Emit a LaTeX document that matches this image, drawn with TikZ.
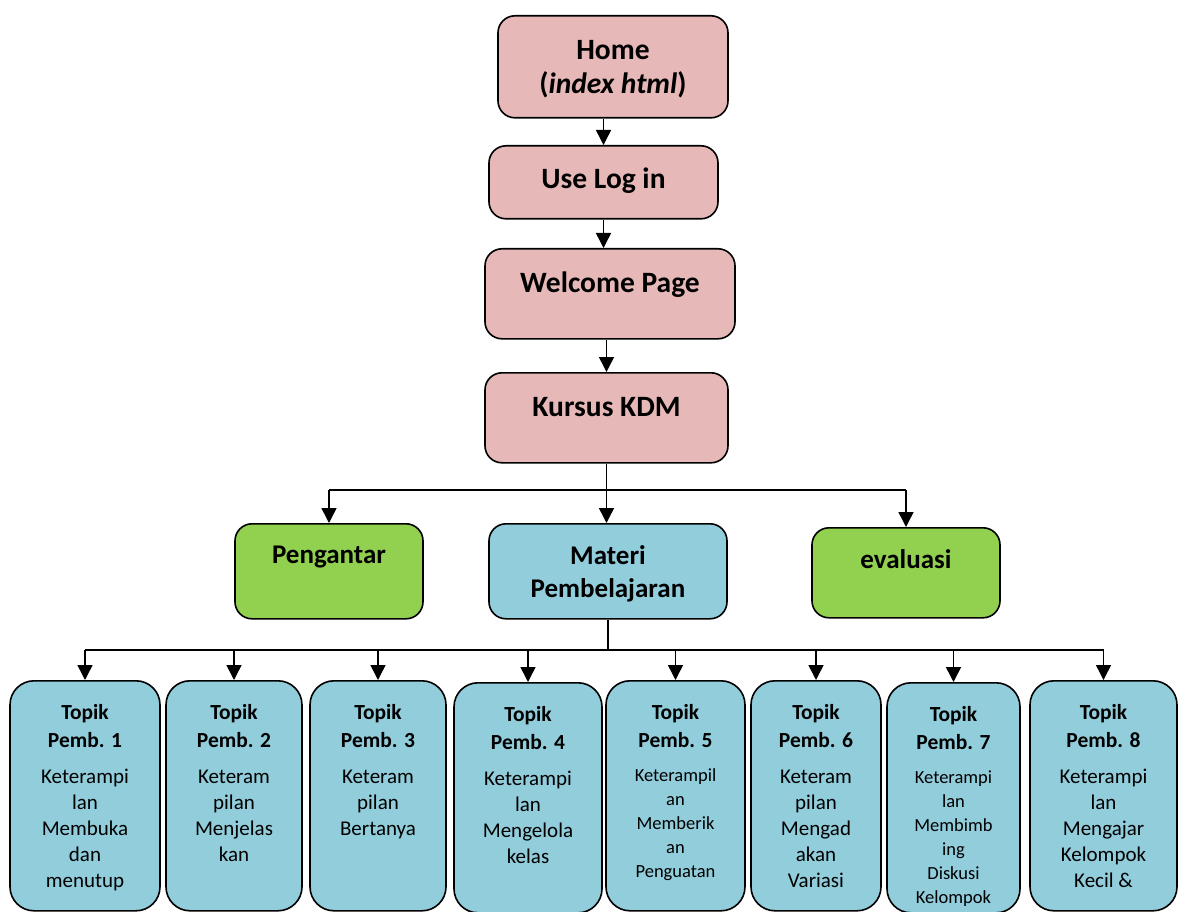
\documentclass[tikz,border=0pt]{standalone}
\usepackage{fontspec}
\setmainfont{Carlito}
\usetikzlibrary{arrows.meta}
\definecolor{pinkfill}{HTML}{E6B9B8}
\definecolor{bluefill}{HTML}{92CDDC}
\definecolor{greenfill}{HTML}{92D050}
\newcommand{\boxtext}[4]{\parbox[t][#1pt][t]{#2pt}{\centering\vspace*{#3pt}#4\par}}
\newcommand{\topiktext}[3]{\parbox[t][230pt][t]{#1pt}{\centering\vspace*{24pt}%
  {\bfseries\fontsize{21.5}{28}\selectfont Topik\\Pemb. #2\par}\vspace*{10pt}{#3\par}}}
\newcommand{\topfont}{\bfseries\fontsize{29.5}{34}\selectfont}
\newcommand{\midfont}{\bfseries\fontsize{27}{33}\selectfont}
\newcommand{\bodyfont}{\fontsize{21}{26}\selectfont}
\newcommand{\smallbody}{\fontsize{18.5}{24}\selectfont}

\begin{document}
\begin{tikzpicture}[x=1pt, y=-1pt,
    box/.style={draw=black, line width=1.6pt, rounded corners=17pt, inner sep=0pt, anchor=north},
    pinkbox/.style={box, fill=pinkfill},
    greenbox/.style={box, fill=greenfill},
    bluebox/.style={box, fill=bluefill},
    topikbox/.style={box, fill=bluefill, rounded corners=24pt},
    link/.style={line width=1.5pt},
    arr/.style={link, -{Triangle[width=15pt,length=15pt]}}]
  \useasboundingbox (0,0) rectangle (1184,912);

  \node[pinkbox] (home) at (613,15) {\boxtext{102}{230}{25}{\topfont Home\\(\textit{index html})}};
  \node[pinkbox] (login) at (603.5,145) {\boxtext{73}{229}{22}{\topfont Use Log in}};
  \node[pinkbox] (welcome) at (610,248) {\boxtext{90}{250}{23}{\topfont Welcome Page}};
  \node[pinkbox] (kursus) at (606.5,372) {\boxtext{90}{243}{25}{\topfont Kursus KDM}};

  \node[greenbox] (pengantar) at (329,523) {\boxtext{95}{188}{22}{\midfont Pengantar}};
  \node[bluebox] (materi) at (608,523) {\boxtext{95}{238}{22}{\midfont Materi\\Pembelajaran}};
  \node[greenbox] (evaluasi) at (906,527) {\boxtext{90}{188}{22}{\midfont evaluasi}};

  \node[topikbox] (t1) at (85,680) {\topiktext{150}{1}{\bodyfont Keterampi\\lan\\Membuka\\dan\\menutup}};
  \node[topikbox] (t2) at (234,680) {\topiktext{136}{2}{\bodyfont Keteram\\pilan\\Menjelas\\kan}};
  \node[topikbox] (t3) at (378,680) {\topiktext{136}{3}{\bodyfont Keteram\\pilan\\Bertanya}};
  \node[topikbox] (t4) at (528,682) {\topiktext{148}{4}{\bodyfont Keterampi\\lan\\Mengelola\\kelas}};
  \node[topikbox] (t5) at (675.5,680) {\topiktext{139}{5}{\smallbody Keterampil\\an\\Memberik\\an\\Penguatan}};
  \node[topikbox] (t6) at (816,680) {\topiktext{130}{6}{\bodyfont Keteram\\pilan\\Mengad\\akan\\Variasi}};
  \node[topikbox] (t7) at (953.5,682) {\topiktext{133}{7}{\smallbody Keterampi\\lan\\Membimb\\ing\\Diskusi\\Kelompok}};
  \node[topikbox] (t8) at (1103.5,680) {\topiktext{147}{8}{\bodyfont Keterampi\\lan\\Mengajar\\Kelompok\\Kecil \&}};

  \coordinate (busA) at (0,490);
  \coordinate (busB) at (0,650);

  \draw[arr] (home.south -| login.north) -- (login.north);
  \draw[arr] (login.south) -- (login.south |- welcome.north);
  \draw[arr] (welcome.south -| kursus.north) -- (kursus.north);

  \draw[arr] (kursus.south) -- (kursus.south |- materi.north);
  \draw[link] (pengantar.north |- busA) -- (evaluasi.north |- busA);
  \draw[arr] (pengantar.north |- busA) -- (pengantar.north);
  \draw[arr] (evaluasi.north |- busA) -- (evaluasi.north);

  \draw[link] (materi.south) -- (materi.south |- busB);
  \draw[link] (t1.north |- busB) -- (t8.north |- busB);
  \foreach \i in {1,...,8}
    \draw[arr] (t\i.north |- busB) -- (t\i.north);
\end{tikzpicture}
\end{document}
